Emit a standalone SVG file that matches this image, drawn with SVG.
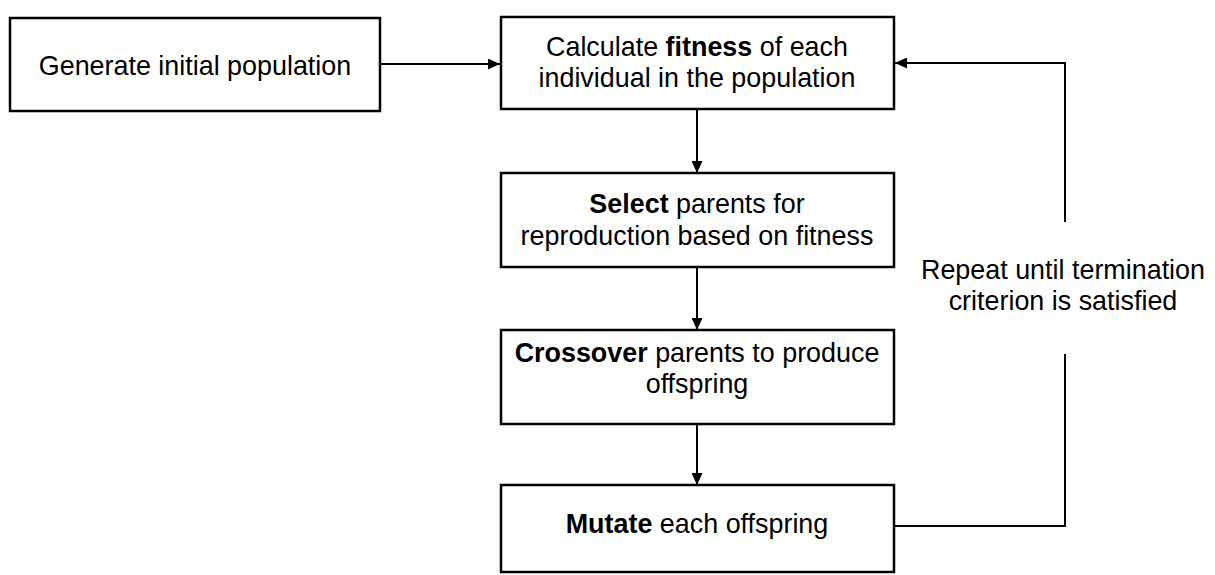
<svg xmlns="http://www.w3.org/2000/svg" width="1215" height="575" viewBox="0 0 1215 575">
<style>
.box{fill:#fff;stroke:#000;stroke-width:2.5}
.t{font-family:"Liberation Sans",Arial,Helvetica,sans-serif;font-size:26.9px;fill:#000;text-anchor:middle}
.b{font-weight:bold}
.c{fill:none;stroke:#000;stroke-width:2}
</style>
<defs>
<marker id="ah" markerUnits="userSpaceOnUse" markerWidth="12" markerHeight="11" refX="12" refY="5.5" orient="auto">
<path d="M0,0 L12,5.5 L0,11 z" fill="#000"/>
</marker>
</defs>
<rect width="1215" height="575" fill="#fff"/>
<g id="connectors">
<line class="c" x1="381" y1="64" x2="500" y2="64" marker-end="url(#ah)"/>
<line class="c" x1="697" y1="109" x2="697" y2="173" marker-end="url(#ah)"/>
<line class="c" x1="697" y1="267" x2="697" y2="330" marker-end="url(#ah)"/>
<line class="c" x1="697" y1="424" x2="697" y2="485" marker-end="url(#ah)"/>
<polyline class="c" points="894,526 1065,526 1065,354"/>
<polyline class="c" points="1065,222 1065,63 895,63" marker-end="url(#ah)"/>
</g>
<g id="n1">
<rect class="box" x="10" y="18" width="370" height="93"/>
<text class="t" x="195" y="75">Generate initial population</text>
</g>
<g id="n2">
<rect class="box" x="501" y="17" width="393" height="92"/>
<text class="t" x="697" y="56">Calculate <tspan class="b">fitness</tspan> of each</text>
<text class="t" x="697" y="87">individual in the population</text>
</g>
<g id="n3">
<rect class="box" x="501" y="173" width="393" height="94"/>
<text class="t" x="697" y="213"><tspan class="b">Select</tspan> parents for</text>
<text class="t" x="697" y="245">reproduction based on fitness</text>
</g>
<g id="n4">
<rect class="box" x="501" y="330" width="393" height="94"/>
<text class="t" x="697" y="362"><tspan class="b">Crossover</tspan> parents to produce</text>
<text class="t" x="697" y="393">offspring</text>
</g>
<g id="n5">
<rect class="box" x="501" y="485" width="393" height="87"/>
<text class="t" x="697" y="533"><tspan class="b">Mutate</tspan> each offspring</text>
</g>
<g id="loop-label">
<text class="t" x="1063" y="279">Repeat until termination</text>
<text class="t" x="1063" y="310">criterion is satisfied</text>
</g>
</svg>
